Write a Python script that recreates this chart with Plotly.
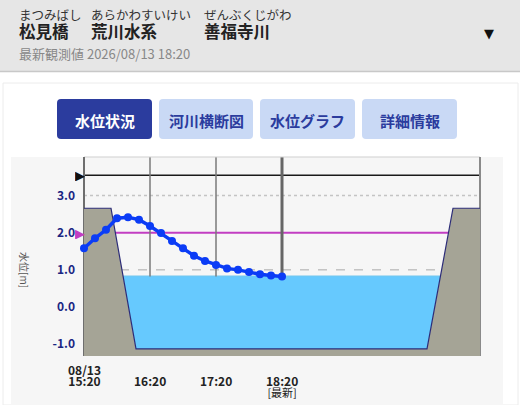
import numpy as np
import plotly.graph_objects as go

W, H = 520, 405

# ---------------- data ----------------
times = ["2026-08-13 15:20", "2026-08-13 15:30", "2026-08-13 15:40", "2026-08-13 15:50",
         "2026-08-13 16:00", "2026-08-13 16:10", "2026-08-13 16:20", "2026-08-13 16:30",
         "2026-08-13 16:40", "2026-08-13 16:50", "2026-08-13 17:00", "2026-08-13 17:10",
         "2026-08-13 17:20", "2026-08-13 17:30", "2026-08-13 17:40", "2026-08-13 17:50",
         "2026-08-13 18:00", "2026-08-13 18:10", "2026-08-13 18:20"]
levels = [1.58, 1.85, 2.08, 2.39, 2.42, 2.35, 2.18, 1.99, 1.78, 1.58, 1.38, 1.24,
          1.13, 1.04, 1.00, 0.94, 0.88, 0.85, 0.82]

tick_times = ["2026-08-13 15:20", "2026-08-13 16:20", "2026-08-13 17:20", "2026-08-13 18:20"]
tick_dates = ["08/13", "", "", ""]
tick_hours = ["15:20", "16:20", "17:20", "18:20"]
tick_notes = ["", "", "", "[最新]"]
x_range = ["2026-08-13 15:20", "2026-08-13 21:20"]

y_ticks = [-1.0, 0.0, 1.0, 2.0, 3.0]
y_range = [-1.32, 4.04]

# river cross-section (distance across, elevation)
section_x = [0, 27, 52, 343, 369, 396]
section_z = [2.66, 2.66, -1.13, -1.13, 2.66, 2.66]

level_black = 3.55
level_magenta = 2.0
level_zero = 0.0
grid_dotted = [3.0]
grid_dashed = [1.0, -1.0]

furigana = ["まつみばし", "あらかわすいけい", "ぜんぶくじがわ"]
names = ["松見橋", "荒川水系", "善福寺川"]
latest_text = "最新観測値 2026/08/13 18:20"
tabs = ["水位状況", "河川横断図", "水位グラフ", "詳細情報"]

FONT = "Noto Sans CJK JP"

def px(x):
    return x / W

def py(y):
    return 1 - y / H

fig = go.Figure()
shapes = []
ann = []

# ---------------- page background pieces ----------------
shapes.append(dict(type="rect", xref="paper", yref="paper", x0=0, x1=1, y0=py(71), y1=1,
                   fillcolor="#e6e6e6", line=dict(width=0), layer="below"))
shapes.append(dict(type="line", xref="paper", yref="paper", x0=0, x1=1, y0=py(71.5), y1=py(71.5),
                   line=dict(color="#c8c8c8", width=1.5), layer="below"))
shapes.append(dict(type="rect", xref="paper", yref="paper", x0=px(3), x1=px(518), y0=0, y1=py(83),
                   fillcolor="#ffffff", line=dict(color="#ececec", width=1), layer="below"))
shapes.append(dict(type="rect", xref="paper", yref="paper", x0=px(11), x1=px(503), y0=0, y1=py(157),
                   fillcolor="#f6f6f6", line=dict(width=0), layer="below"))

# header texts (reading above, name below in one block)
fx = [18, 90, 203]
for f, t, x in zip(furigana, names, fx):
    txt = (f"<span style='font-size:12.5px;color:#333'>{f}</span><br>"
           f"<span style='font-size:16.5px'><b>{t}</b></span>")
    ann.append(dict(text=txt, x=px(x - 1), y=py(24.5), xref="paper", yref="paper",
                    xanchor="left", yanchor="middle", align="left", showarrow=False,
                    font=dict(family=FONT, size=14, color="#222")))
ann.append(dict(text=latest_text, x=px(17), y=py(54), xref="paper", yref="paper", xanchor="left",
                yanchor="middle", showarrow=False, font=dict(family=FONT, size=13, color="#888")))
ann.append(dict(text="▼", x=px(489), y=py(33), xref="paper", yref="paper", xanchor="center",
                yanchor="middle", showarrow=False, font=dict(family="DejaVu Sans", size=13, color="#111")))

# tab buttons
def rounded(x0, y0, x1, y1, r=4):
    X0, X1 = px(x0), px(x1)
    Y0, Y1 = py(y0), py(y1)
    rx, ry = r / W, r / H
    return (f"M {X0+rx},{Y0} L {X1-rx},{Y0} Q {X1},{Y0} {X1},{Y0-ry} "
            f"L {X1},{Y1+ry} Q {X1},{Y1} {X1-rx},{Y1} L {X0+rx},{Y1} "
            f"Q {X0},{Y1} {X0},{Y1+ry} L {X0},{Y0-ry} Q {X0},{Y0} {X0+rx},{Y0} Z")

tab_x = [(57, 152), (159, 253), (260, 355), (362, 457)]
for i, (t, (a, b)) in enumerate(zip(tabs, tab_x)):
    active = i == 0
    shapes.append(dict(type="path", xref="paper", yref="paper", path=rounded(a, 99, b, 139),
                       fillcolor="#2b3c9e" if active else "#c9d9f5", line=dict(width=0), layer="below"))
    ann.append(dict(text="<b>" + t + "</b>", x=px((a + b) / 2), y=py(120), xref="paper", yref="paper",
                    xanchor="center", yanchor="middle", showarrow=False,
                    font=dict(family=FONT, size=15, color="#ffffff" if active else "#2b3c9e")))

# ---------------- cross-section (background of plot) ----------------
bottom = y_range[0] - 0.05
pts = [(section_x[0], bottom)] + list(zip(section_x, section_z)) + [(section_x[-1], bottom)]
path = "M " + " L ".join(f"{a},{b}" for a, b in pts) + " Z"
shapes.append(dict(type="path", xref="x2", yref="y", path=path, fillcolor="#a5a496",
                   line=dict(width=0), layer="below"))

water = levels[-1]
sx = np.array(section_x, float)
sz = np.array(section_z, float)
imin = int(np.argmin(sz))
left_x = float(np.interp(water, sz[:imin + 1][::-1], sx[:imin + 1][::-1]))
jmax = len(sz) - 1 - int(np.argmin(sz[::-1]))
right_x = float(np.interp(water, sz[jmax:], sx[jmax:]))
wpts = [(left_x, water)] + [(a, b) for a, b in zip(section_x, section_z) if b < water and left_x < a < right_x] + [(right_x, water)]
wpath = "M " + " L ".join(f"{a},{b}" for a, b in wpts) + " Z"
shapes.append(dict(type="path", xref="x2", yref="y", path=wpath, fillcolor="#66c9fe",
                   line=dict(width=0), layer="below"))
# profile outline
ppath = "M " + " L ".join(f"{a},{b}" for a, b in zip(section_x, section_z))
shapes.append(dict(type="path", xref="x2", yref="y", path=ppath, line=dict(color="#2c2c78", width=1.2),
                   layer="below"))
# water surface across full width
shapes.append(dict(type="line", xref="x domain", yref="y", x0=0, x1=1, y0=water, y1=water,
                   line=dict(color="#72c6ee", width=2), layer="below"))

# horizontal grid / reference lines
for g in grid_dotted:
    shapes.append(dict(type="line", xref="x domain", yref="y", x0=0, x1=1, y0=g, y1=g,
                       line=dict(color="#c4c4c4", width=1.5, dash="dot"), layer="below"))
for g in grid_dashed:
    shapes.append(dict(type="line", xref="x domain", yref="y", x0=0, x1=1, y0=g, y1=g,
                       line=dict(color="#a8a8a8", width=1, dash="dash"), layer="below"))
shapes.append(dict(type="line", xref="x domain", yref="y", x0=0, x1=1, y0=level_zero, y1=level_zero,
                   line=dict(color="#a82828", width=1.5), layer="below"))
shapes.append(dict(type="line", xref="x domain", yref="y", x0=0, x1=1, y0=level_magenta, y1=level_magenta,
                   line=dict(color="#c23ec2", width=2), layer="below"))
shapes.append(dict(type="line", xref="x domain", yref="y", x0=0, x1=1, y0=level_black, y1=level_black,
                   line=dict(color="#1a1a1a", width=1.5), layer="below"))

# vertical time lines
for i, t in enumerate(tick_times):
    if i == 0:
        continue
    last = i == len(tick_times) - 1
    shapes.append(dict(type="line", xref="x", yref="y domain", x0=t, x1=t, y0=0, y1=1,
                       line=dict(color="#666666" if last else "#7a7a7a", width=3 if last else 1.5),
                       layer="below"))
# frame
shapes.append(dict(type="line", xref="x domain", yref="y domain", x0=0, x1=1, y0=1, y1=1,
                   line=dict(color="#cfcfcf", width=1), layer="below"))
shapes.append(dict(type="line", xref="x domain", yref="y domain", x0=0, x1=0, y0=0, y1=1,
                   line=dict(color="#6e6e6e", width=2), layer="below"))
shapes.append(dict(type="line", xref="x domain", yref="y domain", x0=1, x1=1, y0=0, y1=1,
                   line=dict(color="#8a8a8a", width=2), layer="below"))

# level markers (triangles left of axis)
ann.append(dict(text="▶", x=0, y=level_black, xref="x domain", yref="y", xanchor="right",
                yanchor="middle", showarrow=False, xshift=3, height=12,
                font=dict(family="DejaVu Sans", size=13, color="#111")))
ann.append(dict(text="▶", x=0, y=level_magenta, xref="x domain", yref="y", xanchor="right",
                yanchor="middle", showarrow=False, xshift=3, height=12,
                font=dict(family="DejaVu Sans", size=13, color="#c23ec2")))

# ---------------- data trace ----------------
fig.add_trace(go.Scatter(x=times, y=levels, mode="lines+markers",
                         line=dict(color="#0b3cf6", width=3.5),
                         marker=dict(color="#0b3cf6", size=8), cliponaxis=False,
                         showlegend=False, hoverinfo="skip"))
# invisible trace to activate the section axis
fig.add_trace(go.Scatter(x=section_x, y=section_z, xaxis="x2", yaxis="y", mode="lines",
                         line=dict(width=0), opacity=0, showlegend=False, hoverinfo="skip"))

# x tick labels as annotations (one block per tick)
for t, d, h, n in zip(tick_times, tick_dates, tick_hours, tick_notes):
    lines = []
    if d:
        lines.append(f"<span style='font-size:12px'><b>{d}</b></span>")
    lines.append(f"<span style='font-size:12px'><b>{h}</b></span>")
    if n:
        lines.append(f"<span style='font-size:11px'>{n}</span>")
    first_line_y = 381 - (10.5 if d else 0)
    ann.append(dict(text="<br>".join(lines), x=t, y=py(first_line_y - 11.5), xref="x", yref="paper",
                    xanchor="center", yanchor="top", showarrow=False, align="center",
                    font=dict(family=FONT, size=8.3, color="#222")))

# y title
ann.append(dict(text="水位[m]", x=px(25), y=py(270), xref="paper", yref="paper", xanchor="center",
                yanchor="middle", showarrow=False, textangle=90,
                font=dict(family=FONT, size=10, color="#555")))

fig.update_layout(
    width=W, height=H, autosize=False,
    margin=dict(l=0, r=0, t=0, b=0),
    paper_bgcolor="#ffffff", plot_bgcolor="#f9f9f9",
    showlegend=False,
    xaxis=dict(domain=[px(84), px(480)], range=x_range, type="date", showgrid=False,
               zeroline=False, showticklabels=False, ticks="", showline=False, fixedrange=True),
    xaxis2=dict(domain=[px(84), px(480)], range=[section_x[0], section_x[-1]], overlaying="x",
                visible=False, fixedrange=True),
    yaxis=dict(domain=[py(356), py(157)], range=y_range, showgrid=False, zeroline=False,
               tickvals=y_ticks, ticktext=[f"{v:.1f}" for v in y_ticks], ticks="",
               tickfont=dict(family=FONT, size=12, color="#1a2683", weight="bold"),
               ticklabelstandoff=8, showline=False, fixedrange=True),
    shapes=shapes,
    annotations=ann,
)

fig.write_html("out.html", config={"displayModeBar": False},
               post_script="document.body.style.margin='0';document.body.style.overflow='hidden';")
